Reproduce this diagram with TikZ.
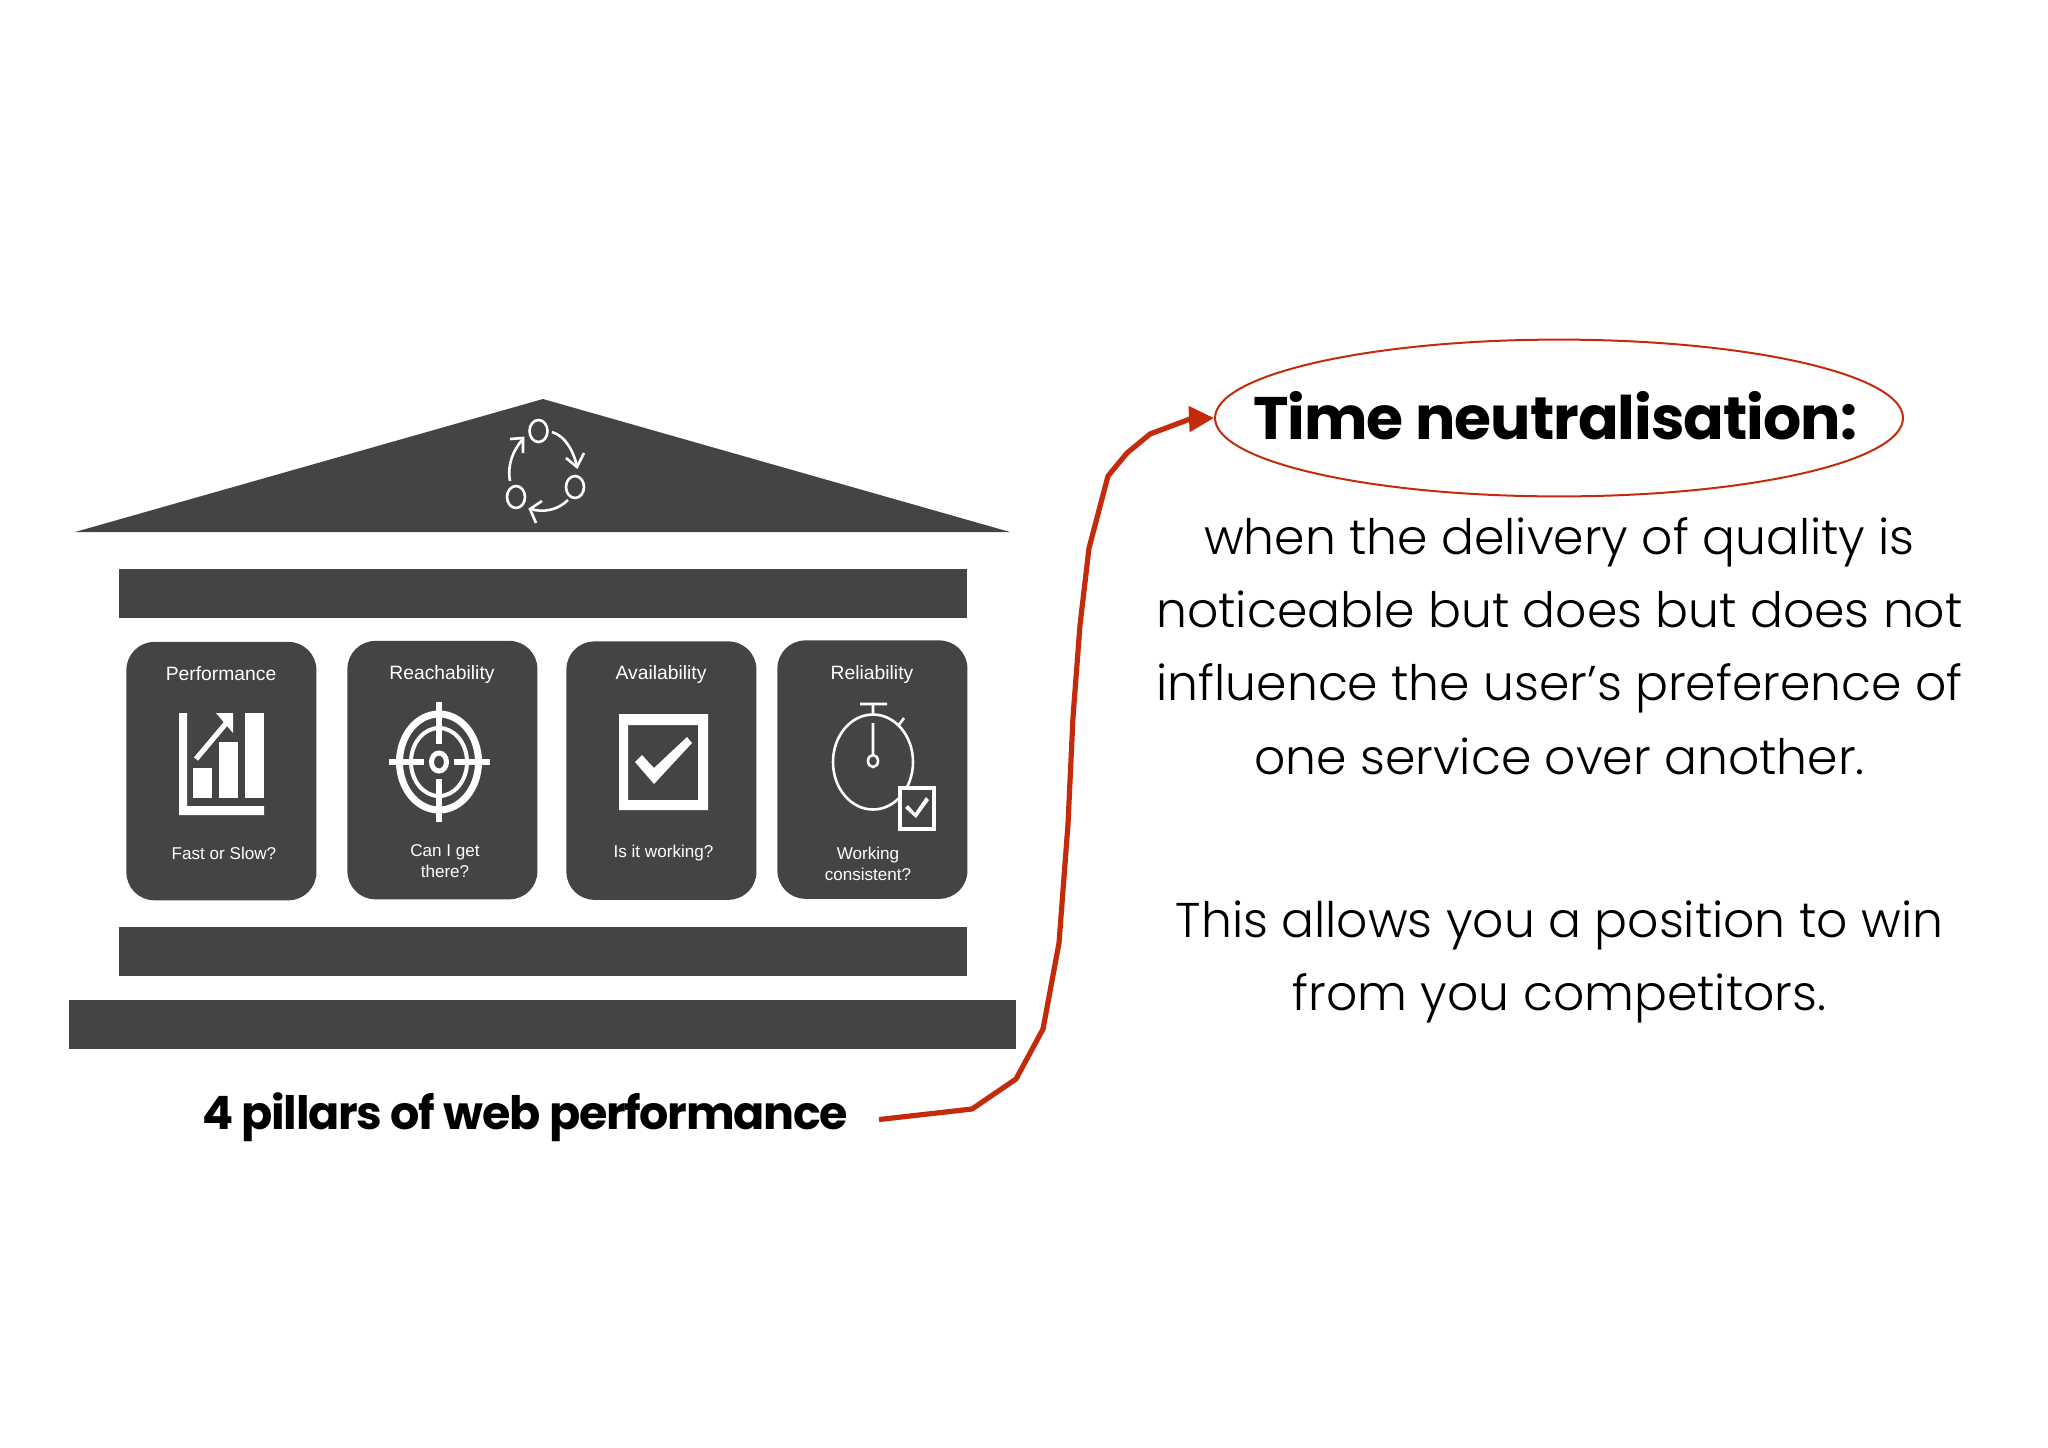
\documentclass[tikz,border=0pt]{standalone}
\usepackage{fontspec}
\setmainfont{Liberation Sans}
\newfontfamily\poplight{Poppins Light}
\newfontfamily\popbold{Poppins Bold}[LetterSpace=-1.7]
\newfontfamily\popboldtight{Poppins Bold}[LetterSpace=-2.85]
\usetikzlibrary{arrows.meta,shapes.geometric}
\definecolor{dark}{HTML}{444444}
\definecolor{redc}{HTML}{C42B0B}
\tikzset{
  block/.style={fill=dark,draw=none},
  card/.style={fill=dark,draw=none,rounded corners=14pt,anchor=north west,minimum width=95pt,minimum height=129.2pt,inner sep=0pt},
  lab/.style={text=white,font=\fontsize{9.65}{10}\selectfont,inner sep=0pt,align=center},
  ask/.style={text=white,font=\fontsize{8.55}{10.4}\selectfont,inner sep=0pt,align=center},
  iconline/.style={draw=white,line width=1.3pt,fill=none},
  body/.style={font=\poplight\fontsize{24.4}{36.6}\selectfont,align=center,inner sep=0pt,text=black},
}
\begin{document}
\begin{tikzpicture}[x=0.5pt,y=-0.5pt]
\useasboundingbox (0,0) rectangle (2048,1447);
% temple
\fill[block] (543,399) -- (1010,532) -- (75,532) -- cycle;
\fill[block] (119,569) rectangle (967,618);
\fill[block] (119,927) rectangle (967,976);
\fill[block] (69,1000) rectangle (1016,1049);
% cards
\node[card] (c1) at (126,641.5) {};
\node[card] (c2) at (347,640.5) {};
\node[card] (c3) at (566,641) {};
\node[card] (c4) at (777,640) {};
\node[lab] (l1) at (221,674) {Performance};
\node[lab] (l2) at (442,674) {Reachability};
\node[lab] (l3) at (661,674.5) {Availability};
\node[lab] (l4) at (872,674) {Reliability};
\node[ask] (q1) at (224,853) {Fast or Slow?};
\node[ask] (q2) at (445,861) {Can I get\\there?};
\node[ask] (q3) at (663.5,853) {Is it working?};
\node[ask] (q4) at (868,864) {Working\\consistent?};
% cycle icon
\draw[iconline] (538.5,431) ellipse [x radius=9,y radius=11];
\draw[iconline] (516,497) ellipse [x radius=9,y radius=11];
\draw[iconline] (575,487) ellipse [x radius=9,y radius=11];
\draw[iconline] (510,481) .. controls (507,465) and (513,450) .. (523,439);
\draw[iconline] (510,439) -- (523,438) -- (523,453);
\draw[iconline] (552,432) .. controls (565,436) and (573,450) .. (577,466);
\draw[iconline] (566,458) -- (577,467) -- (584,453);
\draw[iconline] (568,500) .. controls (558,510) and (543,513) .. (531,509);
\draw[iconline] (536,523) -- (530,509) -- (542,501);
% performance icon
\fill[white] (179,713) -- (187,713) -- (187,806) -- (264,806) -- (264,815) -- (179,815) -- cycle;
\fill[white] (193,768) rectangle (212,798);
\fill[white] (219,742) rectangle (238,798);
\fill[white] (245,713) rectangle (264,798);
\draw[white,line width=2.6pt] (196,759) -- (228,721);
\fill[white] (216,713) -- (233,713) -- (233,733) -- cycle;
% target icon
\draw[white,line width=3.5pt] (439,762) ellipse [x radius=39.5,y radius=48];
\draw[white,line width=2pt] (439,762) ellipse [x radius=28,y radius=34];
\draw[white,line width=2.5pt] (439,762) ellipse [x radius=7.5,y radius=9];
\draw[white,line width=3pt] (389,762) -- (424,762) (454,762) -- (490,762);
\draw[white,line width=2.6pt] (439,702) -- (439,744) (439,779) -- (439,822);
% check icon
\fill[white,even odd rule] (619,714) rectangle (708,810) (628,725) rectangle (698,800);
\fill[white] (635,762) -- (642,755) -- (654,768) -- (687,737) -- (692,743) -- (654,784) -- cycle;
% stopwatch icon
\draw[iconline] (873,762) ellipse [x radius=40,y radius=47.5];
\draw[iconline] (860,704) -- (887,704) (873,704) -- (873,715) (873,723) -- (873,754) (898,726) -- (904,718);
\draw[iconline] (873,761) ellipse [x radius=5,y radius=6];
\fill[dark] (898,786) rectangle (936,831);
\draw[white,line width=2pt] (900,788) rectangle (934,829);
\fill[white] (905,808) -- (908,805) -- (915,813) -- (926,797) -- (929,800) -- (916,818) -- cycle;
% texts
\node[font=\popboldtight\fontsize{23}{26}\selectfont,inner sep=0pt] (pillars) at (525,1117) {4 pillars of web performance};
\node[draw=redc,line width=1pt,ellipse,minimum width=344pt,minimum height=78.4pt,inner sep=0pt] (goal) at (1559,418) {};
\node[font=\popbold\fontsize{30}{33}\selectfont,inner sep=0pt] (title) at (1555,416) {Time neutralisation:};
\node[body] (para1) at (1559.5,646) {when the delivery of quality is\\noticeable but does but does not\\influence the user’s preference of\\one service over another.};
\node[body] (para2) at (1559.5,962) {This allows you a position to win\\from you competitors.};
% connector
\coordinate (start) at (879,1119.5);
\draw[redc,line width=2.6pt,line join=round,-{Triangle[length=12.5pt,width=12.5pt]}] (start) -- (972,1109) -- (1016,1079) -- (1043,1029) -- (1059,943) -- (1068,824) -- (1073,717) -- (1080,625) -- (1089,548) -- (1108,476) -- (1127,453) -- (1150,434) -- (1190,419) -- (goal.west);
\end{tikzpicture}
\end{document}
